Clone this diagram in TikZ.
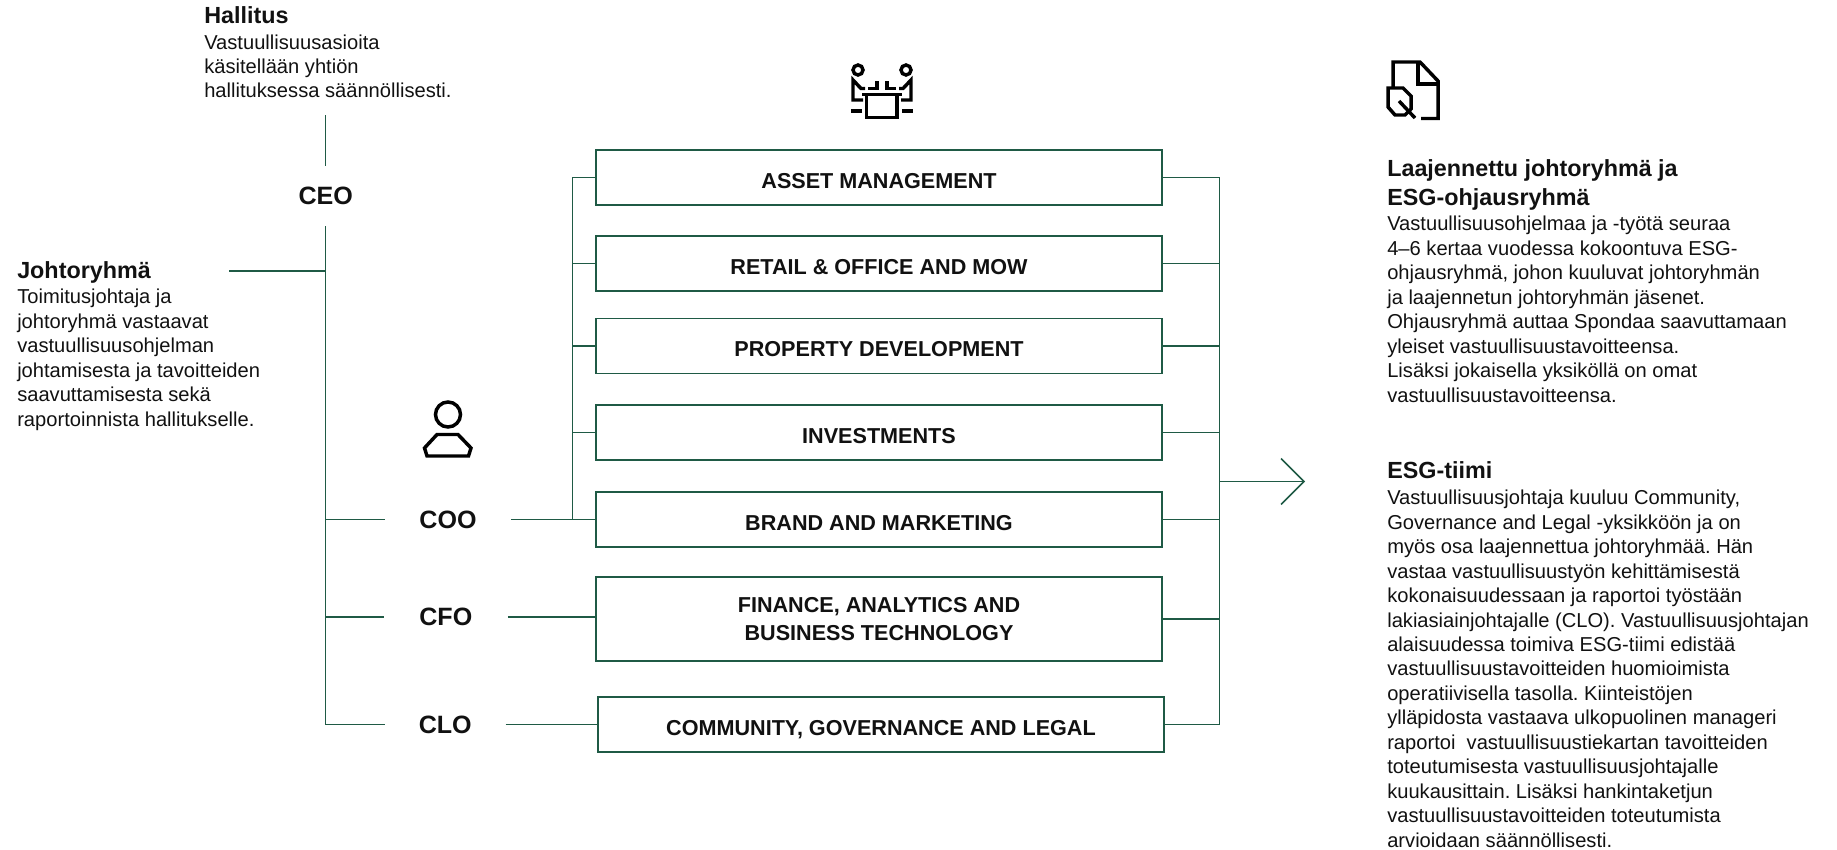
\documentclass[tikz,border=0pt]{standalone}
\usepackage{fontspec}
\setmainfont{Liberation Sans}
\frenchspacing
\definecolor{linegreen}{HTML}{1F5A45}
\definecolor{inkblack}{HTML}{111111}
\tikzset{
    link/.style={draw=linegreen, line width=1.1pt},
    glyph/.style={draw=black, line width=2.6pt, miter limit=4},
    unitbox/.style={draw=linegreen, line width=1.1pt, fill=white, minimum width=424.5pt, align=center, inner sep=0pt, text=inkblack, font=\fontsize{16.2}{18}\selectfont\bfseries},
    singlebox/.style={unitbox, minimum height=41.2pt, text height=16pt, text depth=0pt},
    rolenode/.style={inner sep=0pt, minimum height=30pt, text=inkblack, font=\fontsize{18.8}{21}\selectfont\bfseries},
    headnode/.style={anchor=base west, inner sep=0pt, align=left, text=inkblack, font=\fontsize{17.5}{21.6}\selectfont\bfseries},
    bodynode/.style={anchor=base west, inner sep=0pt, align=left, text=inkblack, font=\fontsize{15.1}{18.33}\selectfont}
}
\begin{document}
\begin{tikzpicture}[x=0.75pt, y=-0.75pt]
    \useasboundingbox (0, 0) rectangle (1837, 849);

    % Left column texts
    \node[headnode] (board) at (204, 24) {Hallitus};
    \node[bodynode] (boardtext) at (204, 98) {Vastuullisuusasioita\\käsitellään yhtiön\\hallituksessa säännöllisesti.};
    \node[headnode] (mgmt) at (17, 278) {Johtoryhmä};
    \node[bodynode] (mgmttext) at (17, 426) {Toimitusjohtaja ja\\johtoryhmä vastaavat\\vastuullisuusohjelman\\johtamisesta ja tavoitteiden\\saavuttamisesta sekä\\raportoinnista hallitukselle.};

    % Roles
    \node[rolenode, minimum width=45pt, minimum height=45pt] (ceo) at (325.7, 196) {CEO};
    \node[rolenode, minimum width=94.5pt] (coo) at (448, 519.5) {COO};
    \node[rolenode, minimum width=92.7pt] (cfo) at (445.8, 617) {CFO};
    \node[rolenode, minimum width=90.4pt] (clo) at (445.2, 724.5) {CLO};

    % Unit boxes
    \foreach \name/\y/\label in {asset/177.5/ASSET MANAGEMENT, retail/263.5/RETAIL \& OFFICE AND MOW, develop/346/PROPERTY DEVELOPMENT, invest/432.5/INVESTMENTS, brand/519.5/BRAND AND MARKETING} {
        \node[singlebox] (\name) at (879, \y) {\label};
    }
    \node[unitbox, minimum height=63pt] (finance) at (879, 619) {FINANCE, ANALYTICS AND\\[3pt]BUSINESS TECHNOLOGY};
    \node[singlebox] (legal) at (881, 724.5) {COMMUNITY, GOVERNANCE AND LEGAL};

    % CEO line and branches
    \coordinate (boardend) at (325.7, 115);
    \coordinate (mgmtend) at (229, 271);
    \draw[link] (boardend) -- (ceo.north);
    \draw[link] (ceo.south) -- (ceo.south |- clo.west) -- (clo.west);
    \draw[link] (mgmtend) -- (ceo.south |- mgmtend);
    \draw[link] (ceo.south |- coo.west) -- (coo.west);
    \draw[link] (ceo.south |- cfo.west) -- (cfo.west);

    % Left bus
    \coordinate (busleft) at (572.5, 176);
    \draw[link] (coo.east) -- (brand.west);
    \draw[link] (cfo.east) -- (cfo.east -| finance.west);
    \draw[link] (clo.east) -- (legal.west);
    \draw[link] (busleft |- coo.east) -- (busleft |- asset.west) -- (asset.west);
    \foreach \name in {retail, develop, invest} {
        \draw[link] (busleft |- \name.west) -- (\name.west);
    }

    % Right bus and arrow
    \coordinate (busright) at (1219.5, 177);
    \coordinate (arrowtip) at (1304, 481.5);
    \draw[link] (asset.east) -- (busright |- asset.east) -- (busright |- legal.east) -- (legal.east);
    \foreach \name in {retail, develop, invest, brand, finance} {
        \draw[link] (\name.east) -- (busright |- \name.east);
    }
    \draw[link] (busright |- arrowtip) -- (arrowtip);
    \draw[link] (1281, 458.5) -- (arrowtip) -- (1281, 504.5);

    % Person icon
    \draw[glyph] (448, 414.5) circle (12.5);
    \draw[glyph] (437, 434.5) -- (458, 434.5) -- (471, 448) -- (468.5, 456) -- (427, 456) -- (424.5, 448) -- cycle;

    % Meeting icon
    \foreach \s in {-1, 1} {
        \draw[glyph] (882 + \s * 24, 70) circle (5);
        \draw[glyph] (882 + \s * 19, 100) -- (882 + \s * 29, 100) -- (882 + \s * 29, 80) -- (882 + \s * 21, 88.5) -- (882 + \s * 17, 88.5);
        \draw[glyph] (882 + \s * 14, 88.5) -- (882 + \s * 5, 88.5) -- (882 + \s * 5, 81);
        \draw[glyph] (882 + \s * 20, 111) -- (882 + \s * 31, 111);
    }
    \draw[glyph] (862, 94.5) -- (902, 94.5);
    \draw[glyph] (866.5, 94.5) rectangle (897, 117.5);

    % Document icon
    \draw[glyph] (1393, 87) -- (1393, 62) -- (1420, 62) -- (1438, 81) -- (1438, 118.5) -- (1421, 118.5);
    \draw[glyph] (1418, 62) -- (1418, 84) -- (1438, 84);
    \draw[glyph] (1388, 88) -- (1403, 88) -- (1411, 96) -- (1411, 109) -- (1405, 115) -- (1395, 115) -- (1388, 107) -- cycle;
    \draw[glyph] (1399, 101) -- (1415, 118);

    % Right column texts
    \node[headnode] (extended) at (1387, 205) {Laajennettu johtoryhmä ja\\ESG-ohjausryhmä};
    \node[bodynode] (extendedtext) at (1387, 402) {Vastuullisuusohjelmaa ja -työtä seuraa\\4–6 kertaa vuodessa kokoontuva ESG-\\ohjausryhmä, johon kuuluvat johtoryhmän\\ja laajennetun johtoryhmän jäsenet.\\Ohjausryhmä auttaa Spondaa saavuttamaan\\yleiset vastuullisuustavoitteensa.\\Lisäksi jokaisella yksiköllä on omat\\vastuullisuustavoitteensa.};
    \node[headnode] (esg) at (1387, 478) {ESG-tiimi};
    \node[bodynode] (esgtext) at (1387, 847) {Vastuullisuusjohtaja kuuluu Community,\\Governance and Legal -yksikköön ja on\\myös osa laajennettua johtoryhmää. Hän\\vastaa vastuullisuustyön kehittämisestä\\kokonaisuudessaan ja raportoi työstään\\lakiasiainjohtajalle (CLO). Vastuullisuusjohtajan\\alaisuudessa toimiva ESG-tiimi edistää\\vastuullisuustavoitteiden huomioimista\\operatiivisella tasolla. Kiinteistöjen\\ylläpidosta vastaava ulkopuolinen manageri\\raportoi\ \ vastuullisuustiekartan tavoitteiden\\toteutumisesta vastuullisuusjohtajalle\\kuukausittain. Lisäksi hankintaketjun\\vastuullisuustavoitteiden toteutumista\\arvioidaan säännöllisesti.};
\end{tikzpicture}
\end{document}
